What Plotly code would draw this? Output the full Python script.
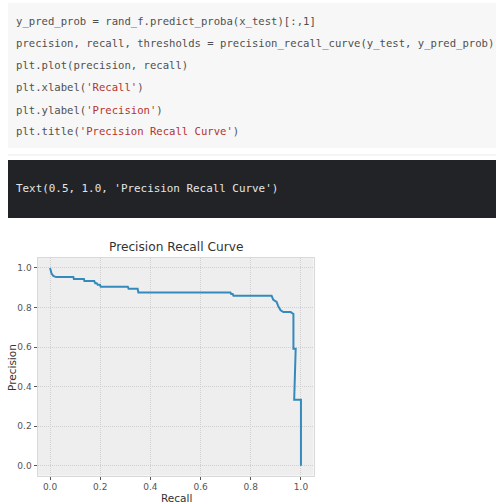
import plotly.graph_objects as go

# Precision-recall curve points (plotted as plt.plot(precision, recall))
precision = [0.0, 0.006, 0.013, 0.024, 0.093, 0.095, 0.135, 0.137, 0.176, 0.180,
             0.186, 0.190, 0.199, 0.202, 0.310, 0.313, 0.349, 0.352, 0.719, 0.722,
             0.728, 0.731, 0.883, 0.890, 0.903, 0.910, 0.919, 0.930, 0.959, 0.967,
             0.970, 0.970, 0.979, 0.973, 1.0, 1.0]
recall = [1.0, 0.972, 0.960, 0.954, 0.954, 0.944, 0.944, 0.934, 0.934, 0.923,
          0.923, 0.915, 0.915, 0.905, 0.905, 0.895, 0.895, 0.876, 0.876, 0.868,
          0.868, 0.859, 0.859, 0.839, 0.828, 0.805, 0.786, 0.777, 0.777, 0.767,
          0.767, 0.592, 0.592, 0.333, 0.333, 0.0]

x_ticks = [0.0, 0.2, 0.4, 0.6, 0.8, 1.0]
y_ticks = [0.0, 0.2, 0.4, 0.6, 0.8, 1.0]

code_lines = [
    "y_pred_prob = rand_f.predict_proba(x_test)[:,1]",
    "precision, recall, thresholds = precision_recall_curve(y_test, y_pred_prob)",
    "plt.plot(precision, recall)",
    "plt.xlabel('Recall')",
    "plt.ylabel('Precision')",
    "plt.title('Precision Recall Curve')",
]
output_line = "Text(0.5, 1.0, 'Precision Recall Curve')"

W, H = 496, 504
CODE_COLOR = "#4f4f4f"
STR_COLOR = "#b5322f"


def px_x(p):
    return p / W


def px_y(p):
    return 1 - p / H


def colorize(line):
    # colour quoted strings like a notebook highlighter
    out, in_str, buf = "", False, ""
    for ch in line:
        if ch == "'":
            if not in_str:
                out += f"<span style='color:{CODE_COLOR}'>{buf}</span>"
                buf, in_str = "'", True
            else:
                buf += "'"
                out += f"<span style='color:{STR_COLOR}'>{buf}</span>"
                buf, in_str = "", False
        else:
            buf += ch
    if buf:
        out += f"<span style='color:{CODE_COLOR}'>{buf}</span>"
    return out


fig = go.Figure()
fig.add_trace(go.Scatter(
    x=precision, y=recall, mode="lines",
    line=dict(color="#348ABD", width=2),
    showlegend=False, hoverinfo="skip",
))

shapes = [
    # code cell background
    dict(type="rect", xref="paper", yref="paper",
         x0=px_x(8), x1=px_x(496), y0=px_y(148), y1=px_y(3),
         fillcolor="#f7f7f7", line=dict(width=0), layer="below"),
    # separator
    dict(type="line", xref="paper", yref="paper",
         x0=px_x(8), x1=px_x(496), y0=px_y(155), y1=px_y(155),
         line=dict(color="#ececec", width=1)),
    # output cell background
    dict(type="rect", xref="paper", yref="paper",
         x0=px_x(8), x1=px_x(496), y0=px_y(218), y1=px_y(160),
         fillcolor="#212327", line=dict(width=0), layer="below"),
]

annotations = []
line_y = [21.7, 43.5, 65.5, 87.3, 109.5, 131.5]
for text, yy in zip(code_lines, line_y):
    annotations.append(dict(
        xref="paper", yref="paper", x=px_x(14), y=px_y(yy),
        xanchor="left", yanchor="middle", showarrow=False,
        text=colorize(text),
        font=dict(family="DejaVu Sans Mono", size=10.6, color=CODE_COLOR),
    ))
annotations.append(dict(
    xref="paper", yref="paper", x=px_x(14), y=px_y(188.5),
    xanchor="left", yanchor="middle", showarrow=False,
    text=output_line,
    font=dict(family="DejaVu Sans Mono", size=10.9, color="#e6e6e6"),
))
# chart title and axis labels
annotations.append(dict(
    xref="paper", yref="paper", x=px_x(176), y=px_y(247),
    xanchor="center", yanchor="middle", showarrow=False,
    text="Precision Recall Curve",
    font=dict(family="DejaVu Sans", size=12.2, color="#333333"),
))
annotations.append(dict(
    xref="paper", yref="paper", x=px_x(176), y=px_y(498),
    xanchor="center", yanchor="middle", showarrow=False,
    text="Recall",
    font=dict(family="DejaVu Sans", size=10.5, color="#333333"),
))
annotations.append(dict(
    xref="paper", yref="paper", x=px_x(12), y=px_y(368),
    xanchor="center", yanchor="middle", showarrow=False, textangle=-90,
    text="Precision",
    font=dict(family="DejaVu Sans", size=10.5, color="#333333"),
))

left, right = 37.5, 313.5
top, bottom = 258.1, 475.6

axis_common = dict(
    range=[-0.05, 1.05], tickformat=".1f",
    ticks="outside", ticklen=3, tickcolor="#555555", tickwidth=1,
    showgrid=True, gridcolor="#d0d0d0", griddash="1px,1px", gridwidth=1,
    showline=True, linecolor="#d9d9d9", mirror=True, linewidth=1,
    zeroline=False,
    tickfont=dict(family="DejaVu Sans", size=9, color="#555555"),
)

fig.update_layout(
    width=W, height=H,
    margin=dict(l=0, r=0, t=0, b=0),
    paper_bgcolor="white",
    plot_bgcolor="#eeeeee",
    shapes=shapes,
    annotations=annotations,
    xaxis=dict(domain=[px_x(left), px_x(right)], tickvals=x_ticks, **axis_common),
    yaxis=dict(domain=[px_y(bottom), px_y(top)], tickvals=y_ticks, **axis_common),
)

fig.write_html("out.html")
